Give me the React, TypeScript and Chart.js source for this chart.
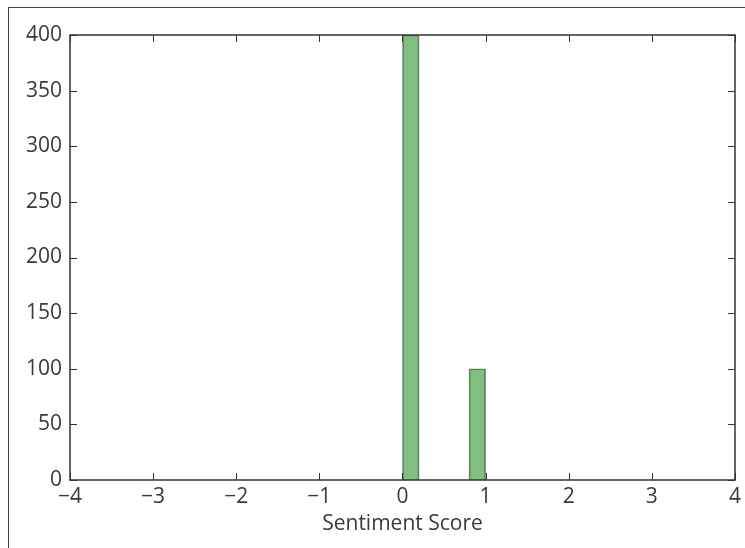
import React, { useEffect, useRef } from "react";
import { Chart, registerables } from "chart.js";

Chart.register(...registerables);

// Histogram bins (centres), width 0.2
const binCenters = [0.1, 0.3, 0.5, 0.7, 0.9];
const binCounts = [400, 0, 0, 0, 100];
const xTicks = [-4, -3, -2, -1, 0, 1, 2, 3, 4];
const yTicks = [0, 50, 100, 150, 200, 250, 300, 350, 400];
const xLabel = "Sentiment Score";

const FONT = "'Open Sans', 'DejaVu Sans', sans-serif";
const TEXT = "#3a3a3a";
const AXIS = "#333333";

const frameAndTicks = {
  id: "frameAndTicks",
  afterDatasetsDraw(chart: any) {
    const { ctx, chartArea: a, scales } = chart;
    const L = 7;
    ctx.save();
    ctx.strokeStyle = AXIS;
    ctx.lineWidth = 1;
    ctx.beginPath();
    for (const v of xTicks) {
      const px = Math.round(scales.x.getPixelForValue(v)) + 0.5;
      ctx.moveTo(px, a.bottom);
      ctx.lineTo(px, a.bottom - L);
      ctx.moveTo(px, a.top);
      ctx.lineTo(px, a.top + L);
    }
    for (const v of yTicks) {
      const py = Math.round(scales.y.getPixelForValue(v)) + 0.5;
      ctx.moveTo(a.left, py);
      ctx.lineTo(a.left + L, py);
      ctx.moveTo(a.right, py);
      ctx.lineTo(a.right - L, py);
    }
    ctx.stroke();
    ctx.lineWidth = 1.5;
    ctx.strokeRect(a.left, a.top, a.right - a.left, a.bottom - a.top);
    ctx.restore();
  },
};

export default function App() {
  const ref = useRef<HTMLCanvasElement | null>(null);
  useEffect(() => {
    if (!ref.current) return;
    const chart = new Chart(ref.current, {
      type: "bar",
      data: {
        datasets: [
          {
            data: binCenters.map((x, i) => ({ x, y: binCounts[i] })),
            backgroundColor: "rgba(0,128,0,0.5)",
            borderColor: "rgba(0,0,0,0.5)",
            borderWidth: 1,
            borderSkipped: "bottom",
            barPercentage: 1,
            categoryPercentage: 1,
          },
        ],
      },
      plugins: [frameAndTicks],
      options: {
        animation: false,
        responsive: false,
        maintainAspectRatio: false,
        layout: { padding: { top: 27, right: 9, left: 0, bottom: 0 } },
        plugins: { legend: { display: false }, tooltip: { enabled: false } },
        scales: {
          x: {
            type: "linear",
            min: -4,
            max: 4,
            offset: false,
            grid: { display: false, drawTicks: false },
            border: { display: false },
            afterBuildTicks: (s: any) => {
              s.ticks = xTicks.map((v) => ({ value: v }));
            },
            afterFit: (s: any) => {
              s.height = 68;
            },
            ticks: {
              padding: 4,
              maxRotation: 0,
              autoSkip: false,
              color: TEXT,
              font: { family: FONT, size: 21 },
              callback: (v: any) => String(v).replace("-", "\u2212"),
            },
            title: {
              display: true,
              text: xLabel,
              color: TEXT,
              font: { family: FONT, size: 21 },
              padding: { top: 0, bottom: 11 },
            },
          },
          y: {
            min: 0,
            max: 400,
            grid: { display: false, drawTicks: false },
            border: { display: false },
            afterBuildTicks: (s: any) => {
              s.ticks = yTicks.map((v) => ({ value: v }));
            },
            afterFit: (s: any) => {
              s.width = 61;
            },
            ticks: {
              padding: 8,
              autoSkip: false,
              color: TEXT,
              font: { family: FONT, size: 21 },
            },
          },
        },
      },
    } as any);
    return () => chart.destroy();
  }, []);

  return (
    <div
      style={{
        position: "absolute",
        left: 8,
        top: 7,
        width: 737,
        height: 541,
        boxSizing: "border-box",
        borderTop: "1px solid #444",
        borderLeft: "1px solid #444",
        overflow: "hidden",
      }}
    >
      <canvas ref={ref} width={736} height={540} style={{ display: "block" }} />
    </div>
  );
}
